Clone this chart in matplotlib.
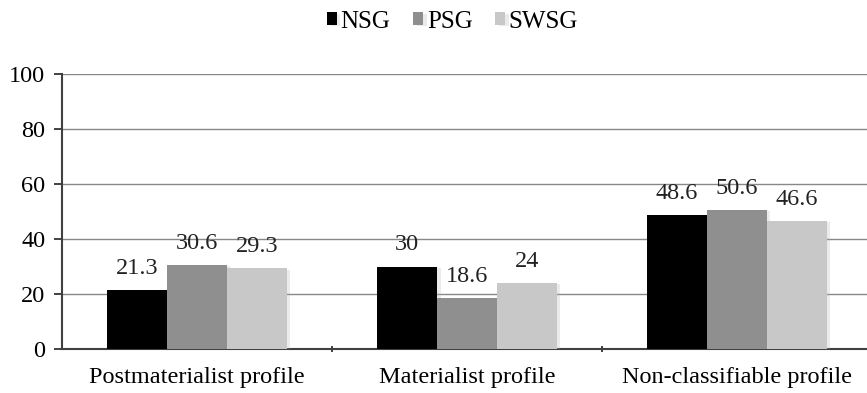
import numpy as np
import matplotlib
matplotlib.use("Agg")
import matplotlib.pyplot as plt
import matplotlib.patheffects as pe

plt.rcParams['font.family'] = ['Liberation Serif', 'DejaVu Serif']

categories = ['Postmaterialist profile', 'Materialist profile', 'Non-classifiable profile']
groups = ['NSG', 'PSG', 'SWSG']
nsg = [21.3, 30, 48.6]
psg = [30.6, 18.6, 50.6]
swsg = [29.3, 24, 46.6]
colors = ['#000000', '#8f8f8f', '#c8c8c8']

fs = 17.5

fig = plt.figure(figsize=(8.67, 3.93), dpi=100)
ax = fig.add_axes([62 / 867, 1 - 349 / 393, 810 / 867, 275 / 393])

x = np.arange(len(categories))
width = 0.222
shadow = [pe.SimplePatchShadow(offset=(2.5, -1), shadow_rgbFace='#b0b0b0', alpha=0.25), pe.Normal()]

for i, (name, vals) in enumerate(zip(groups, [nsg, psg, swsg])):
    pos = x + (i - 1) * width
    ax.bar(pos, vals, width, color=colors[i], label=name, zorder=3,
           linewidth=0, path_effects=shadow)
    for xb, v in zip(pos, vals):
        ax.annotate(f'{v:g}', (xb, v), xytext=(0, 8), textcoords='offset points',
                    ha='center', va='bottom', fontsize=fs, color='#222222', zorder=4)

ax.set_xlim(-0.5, 2.5)
ax.set_ylim(0, 100)
ax.set_yticks(range(0, 101, 20))
ax.yaxis.grid(True, color='#888888', linewidth=1)
ax.set_axisbelow(True)

# category labels in the middle, tick marks on the boundaries
ax.set_xticks(x)
ax.set_xticklabels(categories, fontsize=fs)
ax.tick_params(axis='x', length=0, pad=13)
ax.set_xticks([0.5, 1.5], minor=True)
ax.tick_params(axis='x', which='minor', length=5, width=1.3, color='#333333', direction='inout')
ax.tick_params(axis='y', length=6, width=1.3, color='#333333', labelsize=fs, pad=6)

for s in ['top', 'right']:
    ax.spines[s].set_visible(False)
for s in ['left', 'bottom']:
    ax.spines[s].set_color('#404040')
    ax.spines[s].set_linewidth(1.5)

fig.legend(loc='upper center', bbox_to_anchor=(0.522, 1.03), ncol=3, frameon=False,
           fontsize=18, handlelength=0.4, handleheight=0.4, handletextpad=0.15,
           columnspacing=0.9)

fig.savefig('out.png', dpi=100)
